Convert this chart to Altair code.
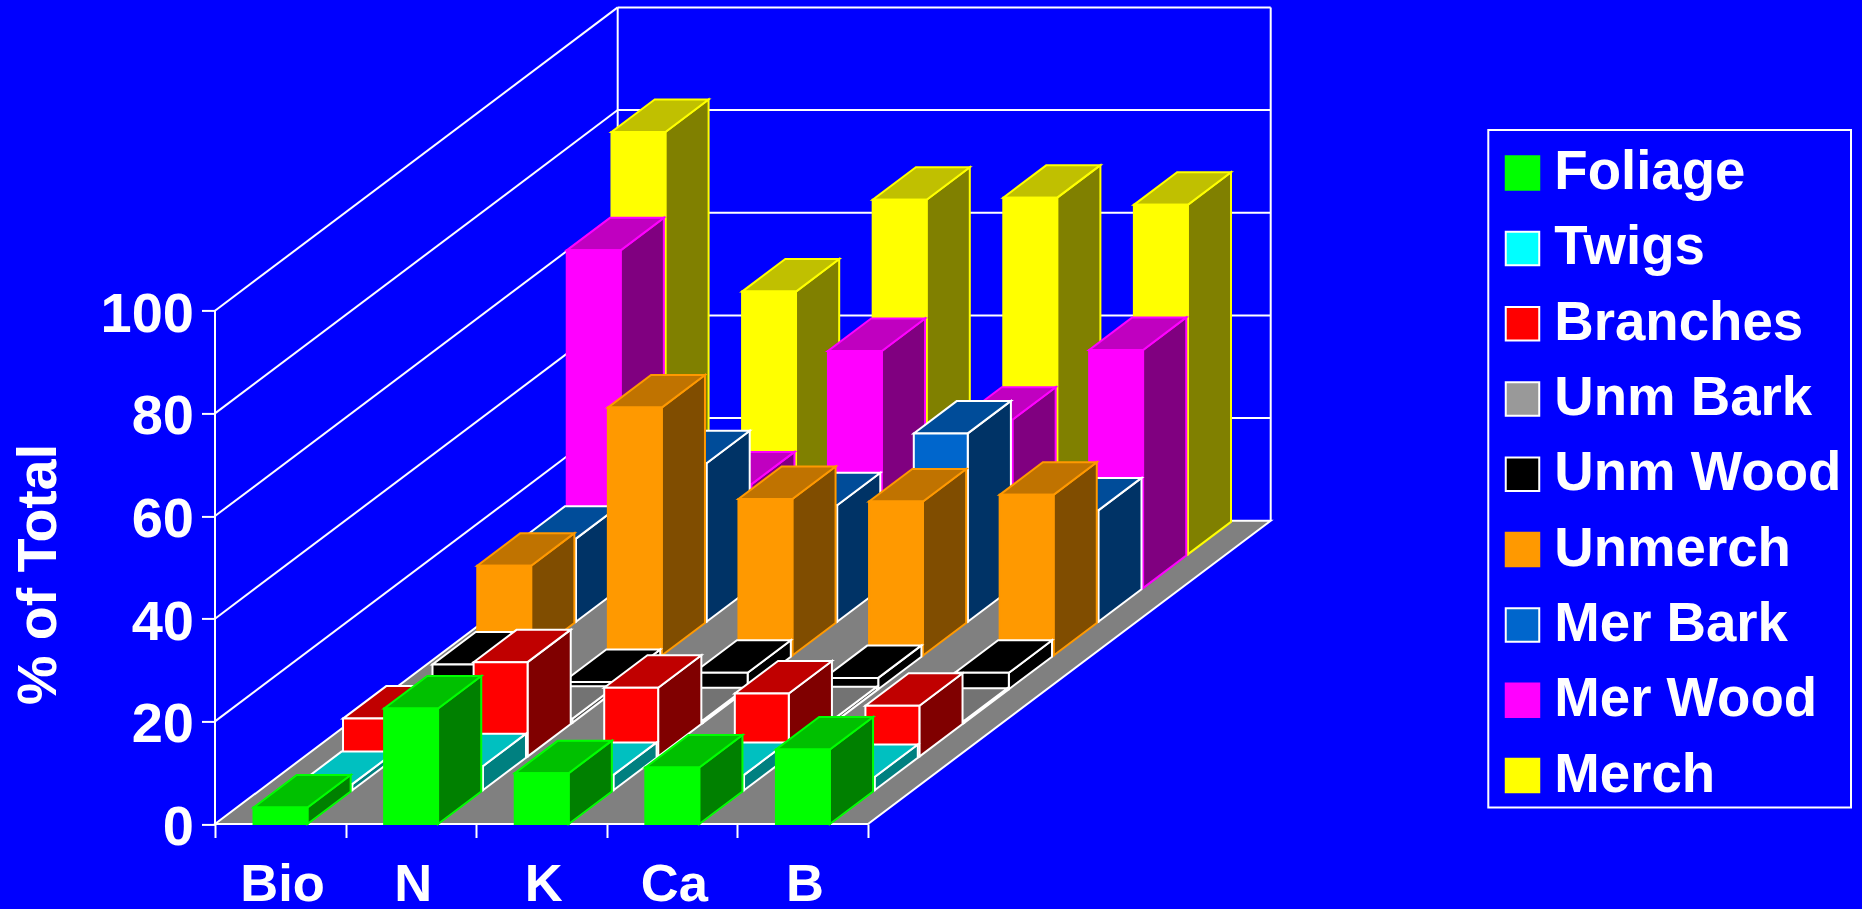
import altair as alt
import pandas as pd

# Share of each component (percent of total), one list per tree component.
nutrients = ["Bio", "N", "K", "Ca", "B"]
foliage = [3.2, 22.5, 9.9, 11.0, 14.5]
twigs = [1.2, 4.7, 3.0, 3.0, 2.6]
branches = [7.4, 18.4, 13.4, 12.3, 9.9]
unm_bark = [0.6, 0.8, 0.5, 0.7, 0.4]
unm_wood = [4.8, 1.4, 3.2, 2.2, 3.2]
unmerch = [17.5, 48.3, 30.5, 30.0, 31.3]
mer_bark = [16.2, 30.9, 22.7, 36.7, 21.7]
mer_wood = [65.8, 20.2, 46.2, 32.8, 46.4]
merch = [82.3, 51.2, 69.1, 69.5, 68.1]

components = ["Foliage", "Twigs", "Branches", "Unm Bark", "Unm Wood",
              "Unmerch", "Mer Bark", "Mer Wood", "Merch"]
values = [foliage, twigs, branches, unm_bark, unm_wood,
          unmerch, mer_bark, mer_wood, merch]

front_colors = ["#00FF00", "#00FFFF", "#FF0000", "#999999", "#000000",
                "#FF9900", "#0066CC", "#FF00FF", "#FFFF00"]
top_colors = ["#00C000", "#00C0C0", "#C00000", "#737373", "#000000",
              "#C07300", "#004C99", "#C000C0", "#C0C000"]
side_colors = ["#008000", "#008080", "#800000", "#4D4D4D", "#000000",
               "#804D00", "#003366", "#800080", "#808000"]
edge_colors = ["#00FF00", "#FFFFFF", "#FFFFFF", "#FFFFFF", "#FFFFFF",
               "#FF9900", "#FFFFFF", "#FF00FF", "#FFFF00"]

# Oblique projection: each depth row shifts a bar right and up, in axis units.
ROW_DX = 0.3426
ROW_DY = 6.565
ROWS = len(components)
WALL_DX = ROW_DX * ROWS
WALL_DY = ROW_DY * ROWS
BAR_LEFT = 0.295
BAR_RIGHT = 0.708
BAR_DEPTH = 0.965
CATS = len(nutrients)

PLOT_W = 1055.7
PLOT_H = 816.6
FONT = "Liberation Sans"
LINE_W = 2

sx = alt.Scale(domain=[0, CATS + WALL_DX], nice=False, zero=False)
sy = alt.Scale(domain=[0, 100 + WALL_DY], nice=False, zero=False)
fill_scale = alt.Scale(domain=components, range=front_colors)
stroke_scale = alt.Scale(domain=components, range=edge_colors)

x_axis = alt.Axis(
    values=list(range(CATS + 1)),
    labelExpr="[" + ",".join(f"'{n}'" for n in nutrients) + ",''][datum.value]",
    labelOffset=67, labelPadding=21.5, tickSize=13.5, tickColor="white", tickWidth=LINE_W,
    domain=False, grid=False, labelColor="white", labelFont=FONT, labelFontWeight="bold",
    labelFontSize=52.5, labelAngle=0, labelOverlap=False, labelBound=False, labelFlush=False,
    title=None,
)
y_axis = alt.Axis(
    values=[0, 20, 40, 60, 80, 100], tickSize=13.5, tickColor="white", tickWidth=LINE_W,
    domain=False, grid=False, labelColor="white", labelFont=FONT, labelFontWeight="bold",
    labelFontSize=56, labelPadding=8, labelOffset=3.5, labelOverlap=False, labelBound=False,
    labelFlush=False, title="% of Total", titleColor="white", titleFont=FONT,
    titleFontWeight="bold", titleFontSize=55.5, titleAngle=270, titleX=-177, titleY=566.5,
    titleBaseline="middle",
)


def X(field):
    return alt.X(field, type="quantitative", scale=sx, axis=x_axis)


def Y(field):
    return alt.Y(field, type="quantitative", scale=sy, axis=y_axis)


# Floor parallelogram, drawn first so that every bar sits above it.
floor = pd.DataFrame({
    "y": [0, WALL_DY],
    "x": [0, WALL_DX],
    "x2": [CATS, CATS + WALL_DX],
})
floor_layer = alt.Chart(floor).mark_area(
    orient="horizontal", fill="#808080", stroke="white", strokeWidth=LINE_W
).encode(y=Y("y"), x=X("x"), x2="x2")

# Wall grid: left wall diagonals, back wall horizontals and the frame verticals.
wall_rows = []
for v in [20, 40, 60, 80, 100]:
    wall_rows.append((0, v, WALL_DX, v + WALL_DY))
    wall_rows.append((WALL_DX, v + WALL_DY, CATS + WALL_DX, v + WALL_DY))
wall_rows.append((0, 0, 0, 100))
wall_rows.append((WALL_DX, WALL_DY, WALL_DX, 100 + WALL_DY))
wall_rows.append((CATS + WALL_DX, WALL_DY, CATS + WALL_DX, 100 + WALL_DY))
walls = pd.DataFrame(wall_rows, columns=["x", "y", "x2", "y2"])
wall_layer = alt.Chart(walls).mark_rule(color="white", strokeWidth=LINE_W).encode(
    x=X("x"), y=Y("y"), x2="x2", y2="y2",
)

layers = [wall_layer, floor_layer]

# Bars are painted from the back row to the front row so nearer bars cover farther ones.
for row in range(ROWS - 1, -1, -1):
    name = components[row]
    fronts, sides, tops = [], [], []
    for cat, value in enumerate(values[row]):
        shift_x = cat + row * ROW_DX
        base = row * ROW_DY
        left = shift_x + BAR_LEFT
        right = shift_x + BAR_RIGHT
        back_dx = BAR_DEPTH * ROW_DX
        back_dy = BAR_DEPTH * ROW_DY
        fronts.append({"series": name, "x": left, "x2": right, "y": base, "y2": base + value})
        sides.append({"cat": cat, "x": right, "y": base, "y2": base + value})
        sides.append({"cat": cat, "x": right + back_dx, "y": base + back_dy,
                      "y2": base + value + back_dy})
        tops.append({"cat": cat, "y": base + value, "x": left, "x2": right})
        tops.append({"cat": cat, "y": base + value + back_dy, "x": left + back_dx,
                     "x2": right + back_dx})
    side_layer = alt.Chart(pd.DataFrame(sides)).mark_area(
        orient="vertical", fill=side_colors[row], stroke=edge_colors[row], strokeWidth=LINE_W
    ).encode(x=X("x"), y=Y("y"), y2="y2", detail="cat:N")
    top_layer = alt.Chart(pd.DataFrame(tops)).mark_area(
        orient="horizontal", fill=top_colors[row], stroke=edge_colors[row], strokeWidth=LINE_W
    ).encode(y=Y("y"), x=X("x"), x2="x2", detail="cat:N")
    legend = alt.Legend(
        title=None, orient="none", legendX=1280.2, legendY=128.2, symbolType="square",
        symbolSize=1122, symbolStrokeWidth=LINE_W, labelFont=FONT, labelFontWeight="bold",
        labelFontSize=54.6, labelColor="white", labelLimit=400, labelOffset=4.5,
        rowPadding=0.3, clipHeight=75, padding=0, symbolOpacity=1,
    )
    front_layer = alt.Chart(pd.DataFrame(fronts)).mark_rect(strokeWidth=LINE_W).encode(
        x=X("x"), x2="x2", y=Y("y"), y2="y2",
        fill=alt.Fill("series:N", scale=fill_scale, legend=legend),
        stroke=alt.Stroke("series:N", scale=stroke_scale, legend=legend),
    )
    layers += [side_layer, top_layer, front_layer]

# Frame around the key, placed in pixels from the plot origin.
frame_layer = alt.Chart(pd.DataFrame({"a": [0]})).mark_rect(
    stroke="white", strokeWidth=LINE_W, fillOpacity=0
).encode(
    x=alt.value(1273.3), x2=alt.value(1636), y=alt.value(122.6), y2=alt.value(800)
)
layers.append(frame_layer)

chart = alt.layer(*layers).properties(
    width=PLOT_W, height=PLOT_H, background="#0000FF",
    autosize=alt.AutoSizeParams(type="none", contains="content"),
    padding={"left": 215, "top": 7.4, "right": 591.3, "bottom": 85},
).configure_view(stroke=None)

chart.save("out.html", embed_options={"renderer": "svg", "actions": False})
